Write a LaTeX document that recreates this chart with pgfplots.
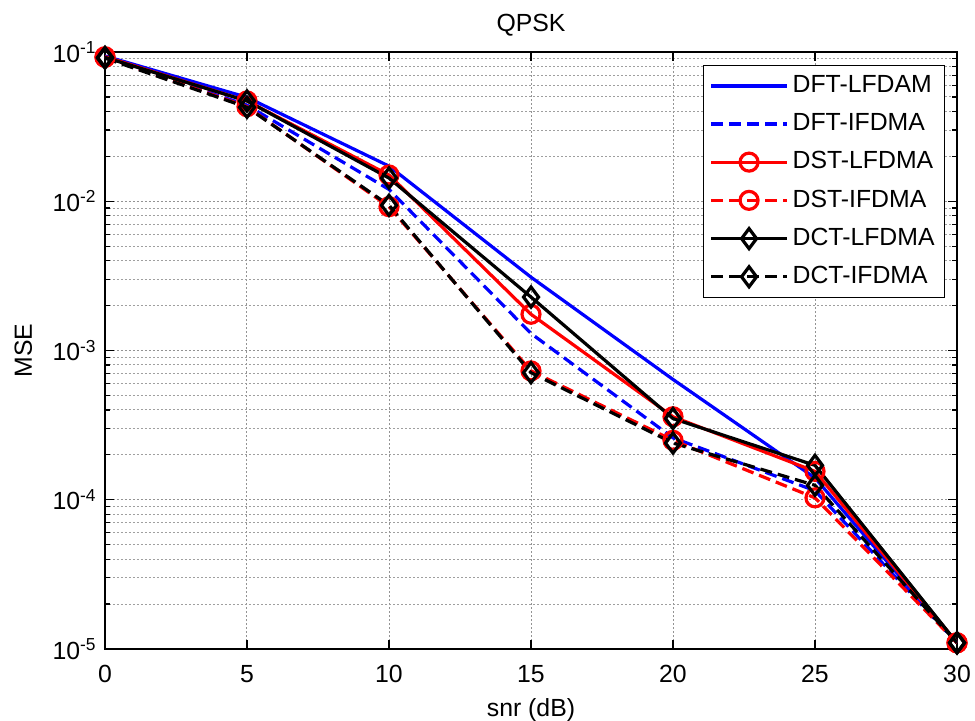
\documentclass[border=0pt]{standalone}
\usepackage{fontspec}
\setmainfont{Liberation Sans}
\usepackage{pgfplots}
\pgfplotsset{compat=1.18}
\begin{document}
\fontsize{12.4}{14.5}\selectfont
\begin{tikzpicture}
\path[use as bounding box] (-52.5pt,-35.5pt) rectangle (435pt,324.5pt);
\begin{semilogyaxis}[
  scale only axis, width=426pt, height=298.5pt,
  at={(0pt,0pt)}, anchor=south west,
  xmin=0, xmax=30, ymin=1e-5, ymax=1e-1,
  xtick={0,5,10,15,20,25,30},
  xticklabels={0,5,10,15,20,25,30},
  ytick={1e-5,1e-4,1e-3,1e-2,1e-1},
  yticklabels={10\textsuperscript{-5},10\textsuperscript{-4},10\textsuperscript{-3},10\textsuperscript{-2},10\textsuperscript{-1}},
  minor ytick={2e-5,3e-5,4e-5,5e-5,6e-5,7e-5,8e-5,9e-5,
               2e-4,3e-4,4e-4,5e-4,6e-4,7e-4,8e-4,9e-4,
               2e-3,3e-3,4e-3,5e-3,6e-3,7e-3,8e-3,9e-3,
               2e-2,3e-2,4e-2,5e-2,6e-2,7e-2,8e-2,9e-2},
  xmajorgrids, ymajorgrids, yminorgrids,
  major grid style={gray!85, dash pattern=on 1pt off 1pt, line width=0.5pt},
  minor grid style={gray!75, dash pattern=on 1pt off 1pt, line width=0.5pt},
  tick align=inside,
  major tick length=4.5pt, minor tick length=2.5pt,
  tick style={black, line width=0.6pt},
  axis line style={line width=0.9pt},
  xticklabel style={anchor=base, yshift=-16.5pt, font=\fontsize{12.4}{14.5}\selectfont},
  yticklabel style={anchor=east, inner sep=0pt, xshift=-4pt, font=\fontsize{12.4}{14.5}\selectfont},
  title={QPSK},
  title style={at={(0.5,1)}, anchor=base, yshift=4pt, font=\fontsize{12.4}{14.5}\selectfont},
  xlabel={snr (dB)},
  xlabel style={at={(0.5,0)}, anchor=base, yshift=-33.5pt, font=\fontsize{12.4}{14.5}\selectfont},
  ylabel={MSE},
  ylabel style={at={(0,0.5)}, anchor=base, yshift=36.5pt, font=\fontsize{12.4}{14.5}\selectfont},
  legend cell align=left,
  legend style={at={(0.986,0.978)}, anchor=north east, draw=black, line width=0.5pt,
    font=\fontsize{12.4}{14.5}\selectfont, row sep=4.6pt, inner sep=3pt,
    /tikz/every even column/.append style={column sep=3pt}},
  legend image code/.code={\draw[mark repeat=2,mark phase=2,#1] plot coordinates {(0pt,0pt) (19pt,0pt) (38pt,0pt)};},
]
\addplot[blue, line width=1.6pt] coordinates {
  (0,0.094) (5,0.0497) (10,0.0172) (15,0.0031) (20,0.00064) (25,0.00014) (30,1.1e-5)};
\addlegendentry{DFT-LFDAM}
\addplot[blue, line width=1.6pt, dash pattern=on 6pt off 3pt] coordinates {
  (0,0.092) (5,0.044) (10,0.012) (15,0.0013) (20,0.00026) (25,0.000115) (30,1.1e-5)};
\addlegendentry{DFT-IFDMA}
\addplot[red, line width=1.6pt, mark=o, mark size=4.5pt, mark options={solid}] coordinates {
  (0,0.093) (5,0.047) (10,0.015) (15,0.00175) (20,0.00036) (25,0.000155) (30,1.1e-5)};
\addlegendentry{DST-LFDMA}
\addplot[red, line width=1.6pt, dash pattern=on 6pt off 3pt, mark=o, mark size=4.5pt, mark options={solid}] coordinates {
  (0,0.092) (5,0.043) (10,0.0092) (15,0.00073) (20,0.00025) (25,0.000103) (30,1.1e-5)};
\addlegendentry{DST-IFDMA}
\addplot[black, line width=1.6pt, mark=diamond, mark size=5pt, mark options={solid}] coordinates {
  (0,0.092) (5,0.047) (10,0.0143) (15,0.00228) (20,0.00035) (25,0.00017) (30,1.1e-5)};
\addlegendentry{DCT-LFDMA}
\addplot[black, line width=1.6pt, dash pattern=on 6pt off 3pt, mark=diamond, mark size=5pt, mark options={solid}] coordinates {
  (0,0.091) (5,0.0426) (10,0.0094) (15,0.00071) (20,0.00024) (25,0.000125) (30,1.1e-5)};
\addlegendentry{DCT-IFDMA}
\end{semilogyaxis}
\end{tikzpicture}
\end{document}
